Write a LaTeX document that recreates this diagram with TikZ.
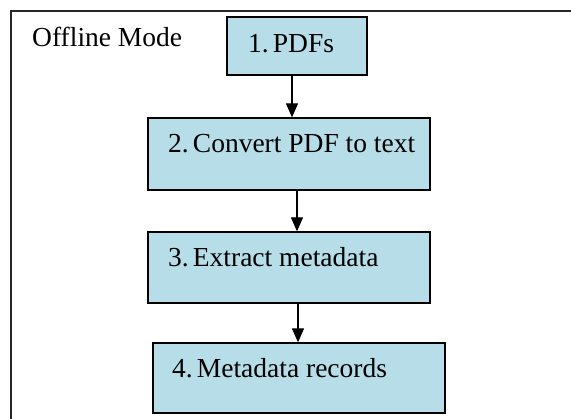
\documentclass[tikz,border=0pt]{standalone}
\usepackage{fontspec}
\setmainfont{Liberation Serif}
\usetikzlibrary{arrows.meta}
\definecolor{boxfill}{RGB}{183,222,232}
\begin{document}
\begin{tikzpicture}[x=1pt,y=-1pt,
  stepbox/.style={draw=black,line width=1.3pt,fill=boxfill,inner sep=0pt},
  lbl/.style={anchor=base west,inner sep=0pt,font=\fontsize{27.5}{32}\selectfont},
  arr/.style={line width=1.3pt,-{Triangle[length=14pt,width=12pt]}}]
\useasboundingbox (0,0) rectangle (571,419);
\draw[line width=1.3pt,draw=black!85] (11,419) |- (571,11);
\node[lbl] (mode) at (32,47) {Offline Mode};
\node[stepbox,minimum width=140pt,minimum height=58pt] (b1) at (297,46) {};
\node[stepbox,minimum width=282pt,minimum height=72pt] (b2) at (289,154) {};
\node[stepbox,minimum width=282pt,minimum height=71pt] (b3) at (289,267.5) {};
\node[stepbox,minimum width=292pt,minimum height=70pt] (b4) at (299,378) {};
\node[lbl] (t1) at (248,53) {1.\kern0.15em PDFs};
\node[lbl] (t2) at (168,153) {2.\kern0.15em Convert PDF to text};
\node[lbl] (t3) at (168,267) {3.\kern0.15em Extract metadata};
\node[lbl] (t4) at (172,378) {4.\kern0.15em Metadata records};
\draw[arr] ([xshift=-5pt]b1.south) -- ([xshift=-5pt]b1.south |- b2.north);
\draw[arr] ([xshift=8pt]b2.south) -- ([xshift=8pt]b2.south |- b3.north);
\draw[arr] ([xshift=9pt]b3.south) -- ([xshift=9pt]b3.south |- b4.north);
\end{tikzpicture}
\end{document}
